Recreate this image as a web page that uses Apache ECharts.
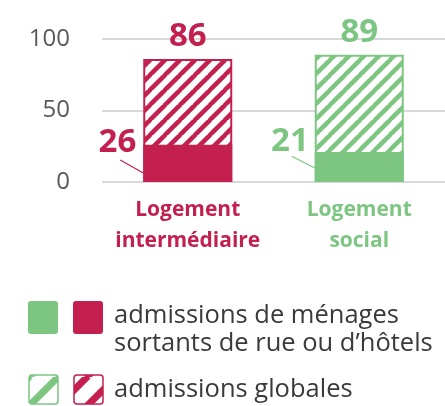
<!DOCTYPE html>
<html>
<head>
<meta charset="utf-8">
<script src="https://cdn.jsdelivr.net/npm/echarts@6/dist/echarts.min.js"></script>
<style>
  html, body { margin: 0; padding: 0; background: #fff; }
  #chart { width: 445px; height: 406px; }
</style>
</head>
<body>
<div id="chart"></div>
<script>
// --- données ---
const categories = ['Logement\nintermédiaire', 'Logement\nsocial'];
const admissionsGlobales = [86, 89];
const admissionsSortants = [26, 21];
const yTicks = [0, 50, 100];
const legendLabels = ["admissions de ménages\nsortants de rue ou d\u2019hôtels", 'admissions globales'];

const RED = '#C3204F';
const GREEN = '#7DC682';
const FONT = '"Open Sans", sans-serif';

// motif hachuré "/"
function hatch(color, size, thick) {
    const c = document.createElement('canvas');
    c.width = size; c.height = size;
    const ctx = c.getContext('2d');
    ctx.fillStyle = '#fff';
    ctx.fillRect(0, 0, size, size);
    ctx.strokeStyle = color;
    ctx.lineWidth = thick;
    for (let k = -1; k <= 1; k++) {
        ctx.beginPath();
        ctx.moveTo(k * size - 1, size + 1);
        ctx.lineTo(k * size + size + 1, -1);
        ctx.stroke();
    }
    return { image: c, repeat: 'repeat' };
}
const colors = [RED, GREEN];
const patterns = colors.map(c => hatch(c, 15, 4.5));

const chart = echarts.init(document.getElementById('chart'));

chart.setOption({
    animation: false,
    grid: { left: 102, right: -4, top: 39, bottom: 224 },
    xAxis: {
        type: 'category', data: categories,
        axisLine: { show: false }, axisTick: { show: false },
        axisLabel: {
            margin: 13,
            formatter: (v, i) => v.split('\n').map(s => '{c' + i + '|' + s + '}').join('\n'),
            rich: {
                c0: { color: RED, fontSize: 21, fontWeight: 'bold', fontFamily: FONT, lineHeight: 31 },
                c1: { color: GREEN, fontSize: 21, fontWeight: 'bold', fontFamily: FONT, lineHeight: 31 }
            }
        }
    },
    yAxis: {
        type: 'value', min: yTicks[0], max: yTicks[yTicks.length - 1], interval: 50,
        axisLine: { show: false }, axisTick: { show: false },
        axisLabel: { color: '#595959', fontSize: 24, fontFamily: FONT, margin: 32 },
        splitLine: { lineStyle: { color: '#D9D9D9', width: 2 } }
    },
    series: [
        {
            name: 'globales', type: 'bar', barWidth: 89, barGap: '-100%',
            data: admissionsGlobales.map((v, i) => ({
                value: v,
                itemStyle: { color: patterns[i], borderColor: colors[i], borderWidth: 2 },
                label: { color: colors[i] }
            })),
            label: { show: true, position: 'top', distance: 6, fontSize: 33, fontWeight: 'bold', fontFamily: FONT }
        },
        {
            name: 'sortants', type: 'bar', barWidth: 89,
            data: admissionsSortants.map((v, i) => ({
                value: v,
                itemStyle: { color: colors[i] },
                label: { color: colors[i], position: i === 0 ? [-7, -2] : [-6, -10] }
            })),
            label: { show: true, align: 'right', verticalAlign: 'middle', fontSize: 33, fontWeight: 'bold', fontFamily: FONT }
        }
    ]
});

// traits de rappel des petites valeurs + légende
const leaders = [[15.4, 6.3], [18, 9.8]];
const g = [];
admissionsSortants.forEach((v, i) => {
    const p1 = chart.convertToPixel({ gridIndex: 0 }, [i, leaders[i][0]]);
    const p2 = chart.convertToPixel({ gridIndex: 0 }, [i, leaders[i][1]]);
    const left = p1[0] - 44.5;
    g.push({ type: 'line', shape: { x1: left - 23, y1: p1[1], x2: left, y2: p2[1] },
        style: { stroke: colors[i], lineWidth: 1.2 } });
});
[GREEN, RED].forEach((c, k) => {
    const x = 28 + k * 45;
    g.push({ type: 'rect', shape: { x: x, y: 301, width: 30, height: 33, r: 3 }, style: { fill: c } });
    g.push({ type: 'rect', shape: { x: x + 1, y: 375, width: 29, height: 29, r: 3 },
        style: { fill: hatch(c, 29, 7), stroke: c, lineWidth: 1.5 } });
});
g.push({ type: 'text', left: 114, top: 302,
    style: { text: legendLabels[0], fill: '#3A3A3A', fontSize: 25.5, fontFamily: FONT, lineHeight: 28 } });
g.push({ type: 'text', left: 114, top: 376,
    style: { text: legendLabels[1], fill: '#3A3A3A', fontSize: 25.5, fontFamily: FONT, lineHeight: 28 } });
chart.setOption({ graphic: g });
</script>
</body>
</html>
